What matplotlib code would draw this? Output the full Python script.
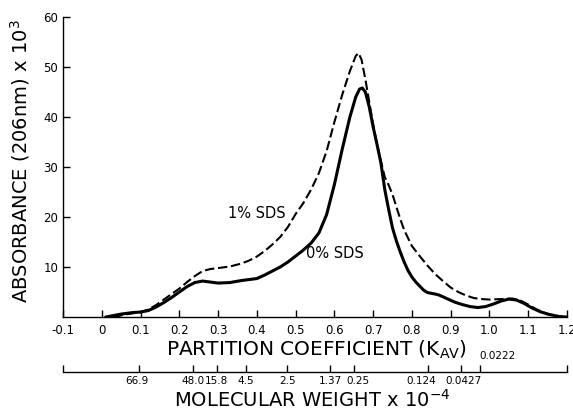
import matplotlib
matplotlib.use('Agg')
import matplotlib.pyplot as plt
from matplotlib.transforms import ScaledTranslation

# 0% SDS (solid) elution profile
kav_0 = [0.01, 0.03, 0.05, 0.08, 0.10, 0.12, 0.14, 0.16, 0.18, 0.20, 0.22, 0.24,
         0.26, 0.28, 0.30, 0.33, 0.36, 0.40, 0.42, 0.44, 0.46, 0.48, 0.50, 0.52,
         0.54, 0.56, 0.58, 0.60, 0.62, 0.64, 0.655, 0.665, 0.672, 0.68, 0.69,
         0.70, 0.71, 0.72, 0.73, 0.74, 0.75, 0.76, 0.77, 0.78, 0.79, 0.80, 0.81,
         0.82, 0.83, 0.84, 0.86, 0.87, 0.89, 0.91, 0.93, 0.95, 0.97, 0.99, 1.01,
         1.03, 1.05, 1.07, 1.09, 1.11, 1.13, 1.15, 1.18, 1.20]
abs_0 = [0, 0.3, 0.6, 0.9, 1.0, 1.3, 2.0, 2.9, 3.9, 5.0, 6.1, 6.9,
         7.2, 7.0, 6.8, 6.9, 7.3, 7.7, 8.4, 9.2, 10.0, 11.0, 12.2, 13.4,
         14.8, 16.8, 20.5, 26.5, 33.5, 40.0, 44.0, 45.6, 45.8, 45.0, 42.0,
         38.0, 34.5, 30.8, 25.5, 21.5, 17.8, 15.2, 13.0, 11.0, 9.3, 8.0, 7.0,
         6.2, 5.4, 4.9, 4.6, 4.4, 3.7, 3.0, 2.5, 2.1, 1.9, 2.1, 2.6,
         3.2, 3.6, 3.4, 2.7, 1.8, 1.1, 0.6, 0.1, 0]

# 1% SDS (dashed) elution profile
kav_1 = [0.03, 0.06, 0.10, 0.12, 0.14, 0.16, 0.18, 0.20, 0.22, 0.24, 0.26, 0.28,
         0.30, 0.33, 0.36, 0.38, 0.40, 0.42, 0.44, 0.46, 0.48, 0.50, 0.52, 0.54,
         0.56, 0.58, 0.60, 0.62, 0.64, 0.655, 0.662, 0.67, 0.68, 0.69, 0.70,
         0.71, 0.72, 0.73, 0.74, 0.75, 0.76, 0.77, 0.78, 0.80, 0.82, 0.84, 0.86,
         0.88, 0.90, 0.92, 0.94, 0.96, 0.98, 1.00, 1.03, 1.06, 1.08, 1.10, 1.12,
         1.14, 1.16, 1.19]
abs_1 = [0, 0.5, 1.0, 1.5, 2.4, 3.5, 4.6, 5.7, 7.0, 8.2, 9.2, 9.6,
         9.8, 10.1, 10.7, 11.3, 12.1, 13.2, 14.5, 16.0, 18.0, 20.6, 22.8, 25.5,
         28.8, 33.2, 39.0, 44.4, 49.2, 52.2, 52.8, 51.5, 47.5, 43.0, 38.5,
         34.5, 31.2, 28.0, 26.4, 24.5, 22.0, 19.6, 17.4, 14.2, 12.2, 10.3, 8.6,
         7.2, 5.9, 5.0, 4.3, 3.8, 3.6, 3.5, 3.6, 3.7, 3.3, 2.5, 1.6,
         0.9, 0.4, 0]

kav_ticks = [-0.1, 0, 0.1, 0.2, 0.3, 0.4, 0.5, 0.6, 0.7, 0.8, 0.9, 1.0, 1.1, 1.2]
kav_labels = ['-0.1', '0', '0.1', '0.2', '0.3', '0.4', '0.5', '0.6', '0.7',
              '0.8', '0.9', '1.0', '1.1', '1.2']
abs_ticks = [10, 20, 30, 40, 50, 60]

mw_kav = [0.096, 0.235, 0.297, 0.372, 0.478, 0.589, 0.651, 0.841, 0.927, 0.976]
mw_labels = ['66.9', '48.0', '15.8', '4.5', '2.5', '1.37', '0.25', '0.124', '0.0427', '0.0222']

plt.rcParams['font.family'] = ['DejaVu Sans']

fig = plt.figure(figsize=(5.73, 4.15), dpi=100)
ax = fig.add_axes([0.110, 0.236, 0.8795, 0.723])

ax.plot(kav_0, abs_0, color='black', lw=2.2, solid_capstyle='round', solid_joinstyle='round')
ax.plot(kav_1, abs_1, color='black', lw=1.5, dashes=(4.5, 1.8))

ax.set_xlim(-0.1, 1.2)
ax.set_ylim(0, 60)
for s in ['top', 'right']:
    ax.spines[s].set_visible(False)
ax.spines['left'].set_linewidth(1.0)
ax.spines['bottom'].set_linewidth(1.0)

ax.set_xticks(kav_ticks)
ax.set_xticklabels(kav_labels)
ax.set_yticks(abs_ticks)
ax.tick_params(axis='both', direction='in', length=5, width=1.0, labelsize=8.5)
ax.tick_params(axis='x', pad=5)

ax.set_xlabel('PARTITION COEFFICIENT (K$_{\\mathrm{AV}}$)', fontsize=14.5)
ax.xaxis.set_label_coords(0.503, -0.072)
ax.set_ylabel('ABSORBANCE (206nm) x 10$^3$', fontsize=14)
ax.yaxis.set_label_coords(-0.062, 0.52)

ax.text(0.40, 20.8, '1% SDS', fontsize=10.5, ha='center', va='center')
ax.text(0.527, 12.8, '0% SDS', fontsize=10.5, ha='left', va='center')

# molecular weight scale below
ax2 = fig.add_axes([0.110, 0.1036, 0.8795, 0.01])
ax2.patch.set_visible(False)
ax2.set_xlim(-0.1, 1.2)
for s in ['top', 'right', 'left']:
    ax2.spines[s].set_visible(False)
ax2.spines['bottom'].set_linewidth(1.0)
ax2.set_yticks([])
ax2.set_xticks([-0.1] + mw_kav + [1.2])
ax2.set_xticklabels([''] + mw_labels[:-1] + ['', ''])
ax2.tick_params(axis='x', direction='in', length=5, width=1.0, labelsize=7.5, pad=3)

# small nudges so crowded labels sit as in the original
nudge = {'0.25': 3, '0.124': -4.5, '0.0427': 1.5, '66.9': -1.5}
for lab in ax2.get_xticklabels():
    dx = nudge.get(lab.get_text(), 0)
    if dx:
        lab.set_transform(lab.get_transform() + ScaledTranslation(dx / 72, 0, fig.dpi_scale_trans))

ax2.annotate(mw_labels[-1], xy=(1.022, 0), xycoords=('data', 'axes fraction'),
             xytext=(0, 8), textcoords='offset points', ha='center', va='bottom', fontsize=7.5)

fig.text(0.545, 0.036, 'MOLECULAR WEIGHT x 10$^{-4}$', fontsize=14, ha='center', va='center')

fig.savefig('out.png', dpi=100)
